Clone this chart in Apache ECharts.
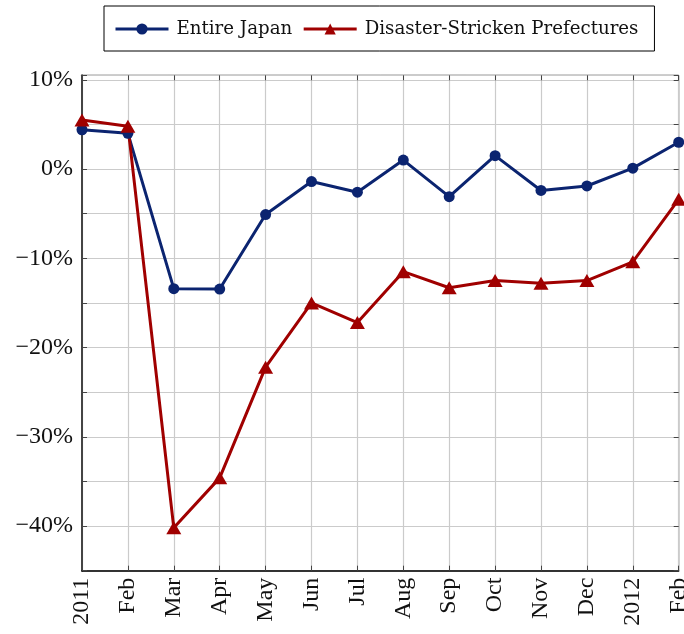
<!DOCTYPE html>
<html>
<head>
<meta charset="utf-8">
<script src="https://cdn.jsdelivr.net/npm/echarts@6/dist/echarts.min.js"></script>
<style>
html,body{margin:0;padding:0;background:#fff;}
#c{width:684px;height:634px;}
</style>
</head>
<body>
<div id="c"></div>
<script>
var categories = ['2011','Feb','Mar','Apr','May','Jun','Jul','Aug','Sep','Oct','Nov','Dec','2012','Feb'];
var entireJapan = [4.4, 4.0, -13.4, -13.45, -5.1, -1.4, -2.6, 1.0, -3.1, 1.5, -2.4, -1.9, 0.1, 3.0];
var disasterStricken = [5.5, 4.8, -40.2, -34.6, -22.2, -15.0, -17.2, -11.5, -13.3, -12.5, -12.8, -12.5, -10.4, -3.4];
var seriesNames = ['Entire Japan', 'Disaster-Stricken Prefectures'];

var blue = '#0b2470';
var red = '#a00000';
var tickFont = 'Liberation Serif';

function pct(v){
  if (Math.abs(v % 10) > 1e-9) return '';
  var s = Math.abs(v) + '%';
  return v < 0 ? '\u2212' + s : s;
}

var chart = echarts.init(document.getElementById('c'), null, {renderer:'canvas'});
chart.setOption({
  animation: false,
  backgroundColor: '#fff',
  legend: {
    left: 104, top: 6,
    padding: [14, 16, 13, 10],
    borderColor: '#000', borderWidth: 1,
    itemWidth: 53, itemHeight: 14, itemGap: 10,
    lineStyle: {width: 3},
    textStyle: {fontFamily: 'DejaVu Serif', fontSize: 18.2, color: '#111', padding: [0,0,0,3]},
    data: seriesNames
  },
  grid: {left: 82, right: 5.3, top: 75.3, bottom: 63.3, show: true, borderColor: '#111', borderWidth: 1, containLabel: false, outerBoundsMode: 'none'},
  xAxis: [{
    type: 'category', data: categories, boundaryGap: false,
    axisLine: {onZero: false, lineStyle: {color: '#000', width: 1.5}},
    axisTick: {inside: true, length: 5, lineStyle: {color: '#444'}},
    axisLabel: {rotate: 90, margin: 7, fontFamily: tickFont, fontSize: 24, color: '#111', interval: 0},
    splitLine: {show: true, lineStyle: {color: '#cbcbcb', width: 1.2}}
  },{
    type: 'category', data: categories, boundaryGap: false, position: 'top',
    axisLine: {show: false, onZero: false},
    axisTick: {inside: true, length: 5, lineStyle: {color: '#444'}},
    axisLabel: {show: false}, splitLine: {show: false}
  }],
  yAxis: [{
    type: 'value', min: -45, max: 10.5, interval: 5,
    axisLine: {show: true, onZero: false, lineStyle: {color: '#444', width: 2}},
    axisTick: {show: true, inside: true, length: 5, lineStyle: {color: '#444'}},
    axisLabel: {margin: 9, fontFamily: tickFont, fontSize: 24, color: '#111', formatter: pct, showMaxLabel: true},
    splitLine: {show: true, lineStyle: {color: '#cbcbcb', width: 1.2}}
  },{
    type: 'value', min: -45, max: 10.5, interval: 5, position: 'right',
    axisLine: {show: false, onZero: false},
    axisTick: {show: true, inside: true, length: 5, lineStyle: {color: '#444'}},
    axisLabel: {show: false}, splitLine: {show: false}
  }],
  series: [{
    name: seriesNames[0], type: 'line', data: entireJapan,
    symbol: 'circle', symbolSize: 11, showAllSymbol: true,
    lineStyle: {color: blue, width: 3}, itemStyle: {color: blue}
  },{
    name: seriesNames[1], type: 'line', data: disasterStricken,
    symbol: 'triangle', symbolSize: [15, 13], showAllSymbol: true,
    lineStyle: {color: red, width: 3}, itemStyle: {color: red}
  }]
});
</script>
</body>
</html>
